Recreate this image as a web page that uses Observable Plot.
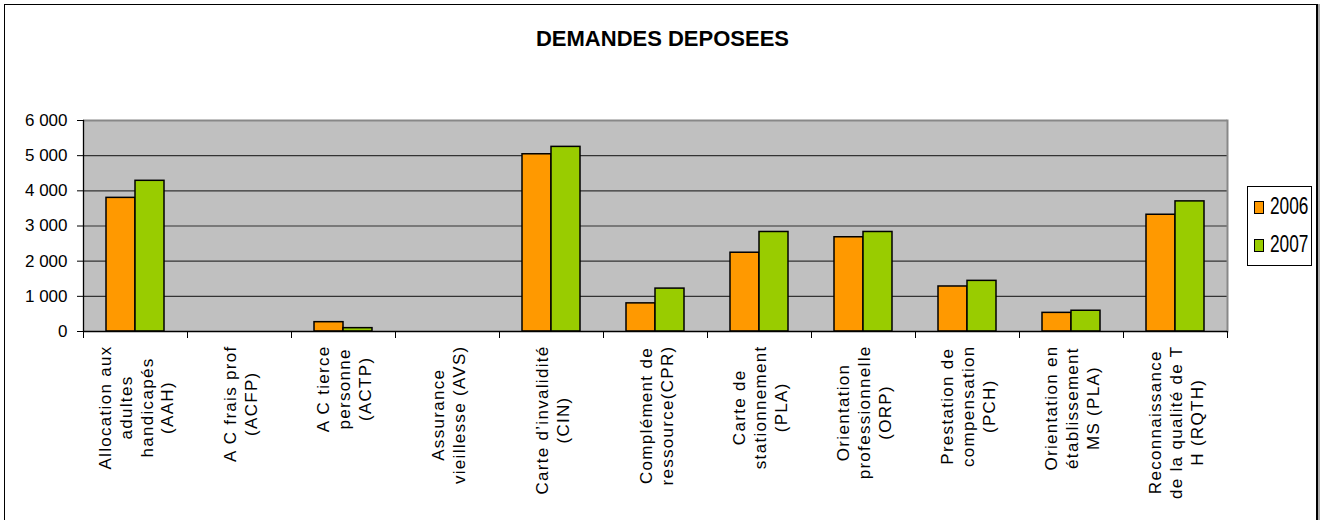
<!DOCTYPE html>
<html>
<head>
<meta charset="utf-8">
<script src="https://cdn.jsdelivr.net/npm/d3@7"></script>
<script src="https://cdn.jsdelivr.net/npm/@observablehq/plot@0.6"></script>
<style>
  body { margin: 0; background: #fff; font-family: "Liberation Sans", Arial, sans-serif; }
  #wrap { position: relative; width: 1325px; height: 520px; overflow: hidden; background: #fff; }
  #border { position: absolute; left: 4px; top: 4px; width: 1314px; height: 600px; border: 1px solid #000; border-right: 2px solid #000; box-shadow: 2px 0 0 #aaa; box-sizing: border-box; }
  #title { position: absolute; left: 0; top: 28px; width: 1325px; text-align: center; font-weight: bold; font-size: 22px; line-height: 22px; }
  #chart { position: absolute; left: 0; top: 60px; }
  #legend { position: absolute; left: 1247px; top: 186px; width: 65px; height: 80px; border: 1px solid #000; box-sizing: border-box; background: #fff; }
  .sw { position: absolute; left: 6px; width: 10px; height: 13px; border: 1px solid #000; box-sizing: border-box; }
  .lt { position: absolute; left: 22px; font-size: 23px; line-height: 23px; transform: scaleX(0.75); transform-origin: 0 0; white-space: nowrap; }
  g[aria-label="text"] text { letter-spacing: 1.3px; }
</style>
</head>
<body>
<div id="wrap">
  <div id="border"></div>
  <div id="title">DEMANDES DEPOSEES</div>
  <div id="chart"></div>
  <div id="legend"></div>
</div>
<script>
const categories = [
  "Allocation aux\nadultes\nhandicapés\n(AAH)",
  "A C frais prof\n(ACFP)",
  "A C tierce\npersonne\n(ACTP)",
  "Assurance\nvieillesse (AVS)",
  "Carte d’invalidité\n(CIN)",
  "Complément de\nressource(CPR)",
  "Carte de\nstationnement\n(PLA)",
  "Orientation\nprofessionnelle\n(ORP)",
  "Prestation de\ncompensation\n(PCH)",
  "Orientation en\nétablissement\nMS (PLA)",
  "Reconnaissance\nde la qualité de T\nH (RQTH)"
];
const years = ["2006", "2007"];
const values2006 = [3800, 0, 265, 0, 5040, 800, 2240, 2680, 1280, 530, 3320];
const values2007 = [4285, 0, 95, 0, 5250, 1220, 2830, 2830, 1440, 590, 3700];
const colors = ["#FF9900", "#99CC00"];
const yTicks = [0, 1000, 2000, 3000, 4000, 5000, 6000];

const rows = categories.flatMap((c, i) => [
  {cat: c, year: years[0], value: values2006[i]},
  {cat: c, year: years[1], value: values2007[i]}
]).filter(d => d.value > 0);

const fmt = d => d3.format(",")(d).replace(/,/g, " ");

const chart = Plot.plot({
  width: 1325,
  height: 460,
  marginTop: 60,
  marginBottom: 189,
  marginLeft: 79,
  marginRight: 95,
  style: {fontFamily: "'Liberation Sans', Arial, sans-serif", fontSize: "17px", color: "#000", background: "transparent", overflow: "visible"},
  fx: {domain: categories, padding: 0, axis: null, label: null},
  x: {domain: years, paddingInner: 0, paddingOuter: 0.773, axis: null},
  y: {domain: [0, 6000], axis: null, label: null},
  color: {domain: years, range: colors},
  marks: [
    Plot.frame({facet: "super", fill: "#C0C0C0"}),
    Plot.ruleY(yTicks.slice(1, -1), {stroke: "#333", strokeWidth: 1.2}),
    Plot.ruleY([yTicks[yTicks.length - 1]], {stroke: "#888", strokeWidth: 2}),
    Plot.frame({facet: "super", anchor: "right", stroke: "#888", strokeWidth: 2}),
    Plot.barY(rows, {fx: "cat", x: "year", y: "value", fill: "year", stroke: "#000", strokeWidth: 1.5, inset: 0}),
    Plot.ruleY([0], {stroke: "#000", strokeWidth: 1.3}),
    Plot.frame({facet: "super", anchor: "left", stroke: "#000", strokeWidth: 1.3}),
    Plot.frame({anchor: "left", insetTop: 211, insetBottom: -6, stroke: "#000"}),
    Plot.frame({facet: "super", anchor: "right", insetTop: 211, insetBottom: -6, stroke: "#000"}),
    Plot.axisY({ticks: yTicks, tickFormat: fmt, tickSize: 6, tickPadding: 10, fontSize: 17, label: null, facetAnchor: "left"}),
    Plot.text(categories, {fx: d => d, text: d => d, frameAnchor: "bottom", rotate: -90, textAnchor: "middle", lineAnchor: "middle", lineHeight: 1.22, dy: 14, fontSize: 17, fill: "#000"})
  ]
});
document.getElementById("chart").appendChild(chart);

// Excel-like layout: block top-aligned at the axis, lines centred within the block
chart.querySelectorAll('g[aria-label="text"] text').forEach(t => {
  const spans = t.querySelectorAll("tspan");
  let L = 0;
  if (spans.length) spans.forEach(s => { L = Math.max(L, s.getComputedTextLength()); });
  else L = t.getComputedTextLength();
  const tr = t.getAttribute("transform") || "";
  const m = tr.match(/translate\(([-\d.e]+)[ ,]+([-\d.e]+)\)/);
  if (m) {
    const x = +m[1], y = +m[2];
    t.setAttribute("transform", tr.replace(m[0], `translate(${x},${y + L / 2})`));
  }
});

// legend
const legend = document.getElementById("legend");
const swTop = [14, 52], txtTop = [8, 46];
years.forEach((yr, i) => {
  const sw = document.createElement("div");
  sw.className = "sw";
  sw.style.top = swTop[i] + "px";
  sw.style.background = colors[i];
  legend.appendChild(sw);
  const lt = document.createElement("div");
  lt.className = "lt";
  lt.style.top = txtTop[i] + "px";
  lt.textContent = yr;
  legend.appendChild(lt);
});
</script>
</body>
</html>
